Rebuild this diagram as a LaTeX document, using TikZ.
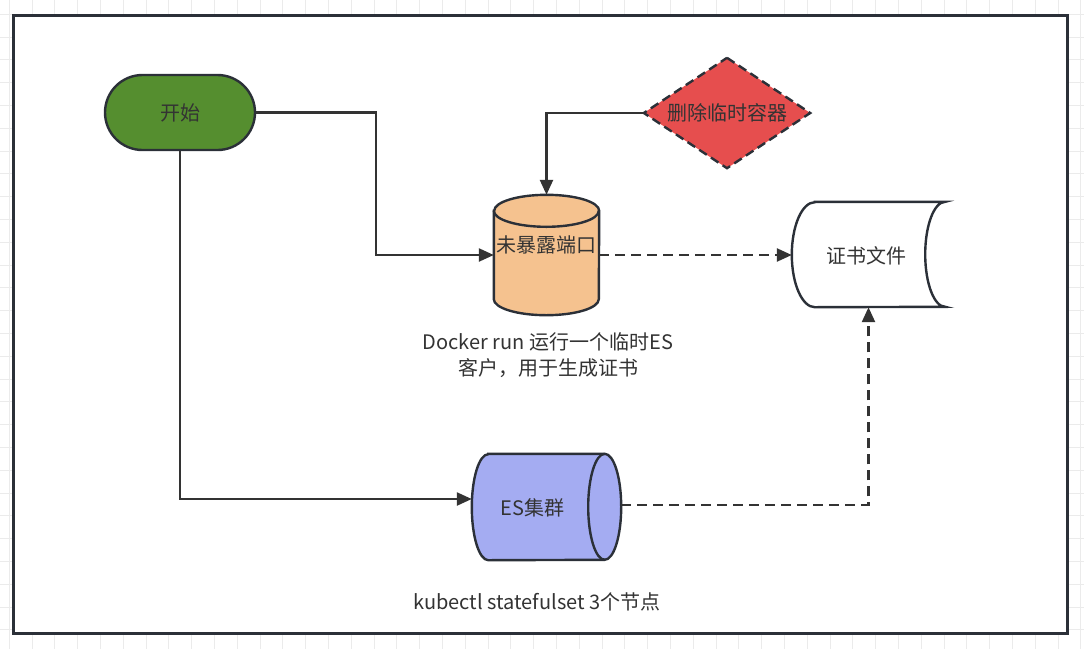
\documentclass[tikz,border=0pt]{standalone}
\usepackage{fontspec}
\setmainfont{Noto Sans CJK SC}
\usetikzlibrary{arrows.meta,shapes.misc,calc}

\definecolor{edge}{HTML}{2B3038}
\definecolor{wire}{HTML}{333333}
\definecolor{startgreen}{HTML}{558E2F}
\definecolor{delred}{HTML}{E64E4E}
\definecolor{portorange}{HTML}{F5C28F}
\definecolor{clusterblue}{HTML}{A4ACF2}
\definecolor{gridgray}{HTML}{EBEBEB}

\tikzset{
  flow/.style={draw=wire, line width=2.4pt, -{Triangle[length=15pt,width=13pt]}},
  dashflow/.style={flow, dash pattern=on 10pt off 6pt},
  shapebox/.style={rectangle, inner sep=0pt, text=wire},
  outline/.style={draw=edge, line width=2.4pt},
  caption/.style={text=wire, align=center}
}

\begin{document}
\begin{tikzpicture}[x=1pt, y=-1pt, font=\fontsize{20}{26}\selectfont]
   \useasboundingbox (0,0) rectangle (1084,649);
   % background grid and frame
   \foreach \i in {0,...,47} \draw[gridgray, line width=1pt] (9.2+22.8*\i,0) -- (9.2+22.8*\i,649);
   \foreach \i in {0,...,28} \draw[gridgray, line width=1pt] (0,14.2+22.8*\i) -- (1084,14.2+22.8*\i);
   \draw[fill=white, draw=edge, line width=3pt] (13,15) rectangle (1067,633);

   % nodes
   \node[shapebox, rounded rectangle, outline, fill=startgreen,
         minimum width=150pt, minimum height=75pt] (start) at (180,112.5) {开始};
   \node[shapebox, minimum width=166pt, minimum height=110pt] (rm) at (727,113) {};
   \node[shapebox, minimum width=105pt, minimum height=120pt] (port) at (546.5,255) {};
   \node[shapebox, minimum width=153pt, minimum height=105pt] (cert) at (868.5,254.5) {};
   \node[shapebox, minimum width=149pt, minimum height=106pt] (es) at (546.5,507) {};

   % shapes
   \draw[outline, fill=delred, dash pattern=on 9pt off 5pt]
     (rm.north) -- (rm.east) -- (rm.south) -- (rm.west) -- cycle;
   \node[shapebox] (rmtext) at (rm.center) {删除临时容器};

   \draw[outline, fill=portorange]
     ($(port.north west)+(0,16)$) -- ($(port.south west)+(0,-16)$)
     arc[start angle=180, end angle=360, x radius=52.5pt, y radius=16pt]
     -- ($(port.north east)+(0,16)$)
     arc[start angle=0, end angle=180, x radius=52.5pt, y radius=16pt] -- cycle;
   \draw[outline] ($(port.north west)+(0,16)$)
     arc[start angle=180, end angle=360, x radius=52.5pt, y radius=16pt];
   \node[shapebox] (porttext) at ($(port.center)+(0,-10)$) {未暴露端口};

   \draw[outline, fill=white]
     ($(cert.north west)+(23,0)$) -- (cert.north east)
     arc[start angle=90, end angle=270, x radius=20pt, y radius=52.5pt]
     -- ($(cert.south west)+(23,0)$)
     arc[start angle=270, end angle=90, x radius=23pt, y radius=52.5pt] -- cycle;
   \node[shapebox] (certtext) at ($(cert.center)+(-2,1)$) {证书文件};

   \draw[outline, fill=clusterblue]
     ($(es.north west)+(16.5,0)$) -- ($(es.north east)+(-16.5,0)$)
     arc[start angle=90, end angle=-90, x radius=16.5pt, y radius=53pt]
     -- ($(es.south west)+(16.5,0)$)
     arc[start angle=270, end angle=90, x radius=16.5pt, y radius=53pt] -- cycle;
   \draw[outline] ($(es.north east)+(-16.5,0)$)
     arc[start angle=90, end angle=270, x radius=16.5pt, y radius=53pt];
   \node[shapebox] (estext) at ($(es.center)+(-14,1)$) {ES集群};

   % captions
   \node[caption] (dockernote) at (548,355) {Docker run 运行一个临时ES\\客户，用于生成证书};
   \node[caption] (k8snote) at (537,602) {kubectl statefulset 3个节点};

   % connectors
   \draw[flow] (start.east) -- ++(120,0) |- (port.west);
   \draw[flow] (start.south) |- ([yshift=8pt]es.west);
   \draw[flow] (rm.west) -| (port.north);
   \draw[dashflow] (port.east) -- (port.east -| cert.west);
   \draw[dashflow] ([yshift=2pt]es.east) -| (cert.south);
\end{tikzpicture}
\end{document}
